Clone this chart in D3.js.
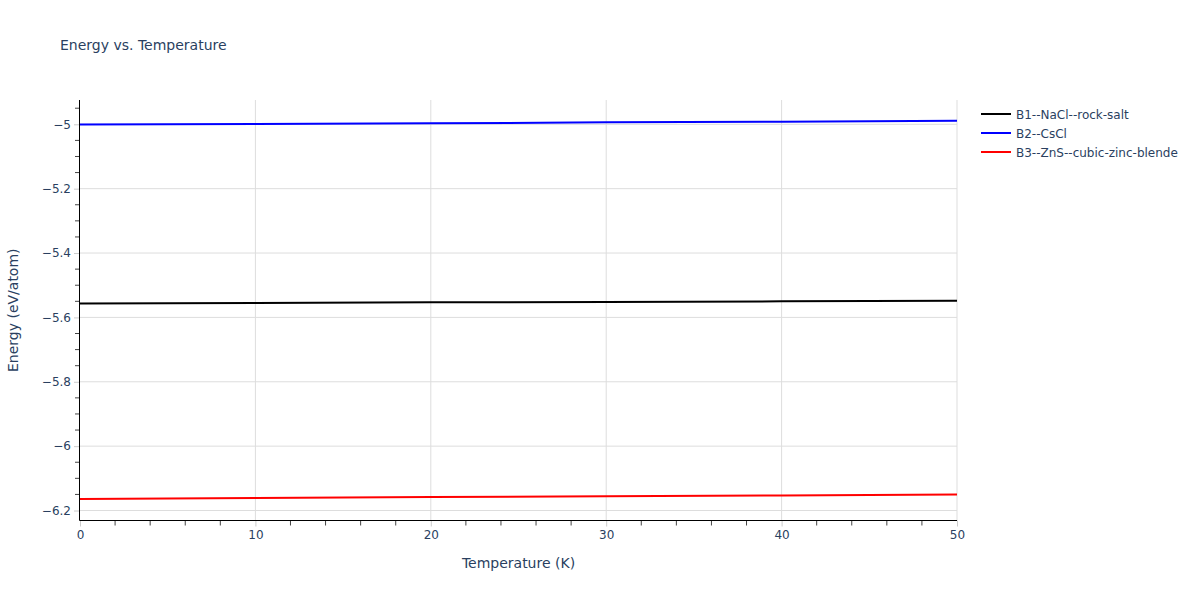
<!DOCTYPE html>
<html>
<head>
<meta charset="utf-8">
<script src="https://cdn.jsdelivr.net/npm/d3@7"></script>
<style>
    body { margin: 0; background: #fff; }
    text { font-family: "DejaVu Sans", Verdana, sans-serif; fill: #2a3f5f; }
</style>
</head>
<body>
<div id="chart"></div>
<script>
// values
const temperatures = [0, 10, 20, 30, 40, 50];
const b1Energy = [-5.557, -5.555, -5.553, -5.552, -5.550, -5.548];
const b2Energy = [-5.001, -4.999, -4.997, -4.994, -4.992, -4.989];
const b3Energy = [-6.164, -6.161, -6.158, -6.156, -6.153, -6.150];
const seriesNames = ["B1--NaCl--rock-salt", "B2--CsCl", "B3--ZnS--cubic-zinc-blende"];
const seriesColors = ["#000000", "#0000ff", "#ff0000"];
const xTicks = [0, 10, 20, 30, 40, 50];
const yTicks = [-5, -5.2, -5.4, -5.6, -5.8, -6, -6.2];

const series = [b1Energy, b2Energy, b3Energy].map((vals, i) => ({
    name: seriesNames[i],
    color: seriesColors[i],
    points: vals.map((v, j) => ({ t: temperatures[j], e: v }))
}));

let margin = {top: 100, right: 243, bottom: 79.5, left: 80},
    fullWidth = 1200, fullHeight = 600,
    width = fullWidth - margin.left - margin.right,
    height = fullHeight - margin.top - margin.bottom;

let svg = d3.select("#chart").append("svg")
    .attr("width", fullWidth)
    .attr("height", fullHeight);

let g = svg.append("g").attr("transform", "translate(" + margin.left + "," + margin.top + ")");

let xScale = d3.scaleLinear().domain([0, 50]).range([0, width]);
let yScale = d3.scaleLinear().domain([-6.231, -4.9245]).range([height, 0]);

// grid lines
g.append("g").selectAll("line")
    .data(xTicks.filter(d => d > 0))
    .enter().append("line")
    .attr("x1", d => xScale(d)).attr("x2", d => xScale(d))
    .attr("y1", 0).attr("y2", height)
    .attr("stroke", "#dddddd").attr("stroke-width", 1);

g.append("g").selectAll("line")
    .data(yTicks)
    .enter().append("line")
    .attr("x1", 0).attr("x2", width)
    .attr("y1", d => yScale(d)).attr("y2", d => yScale(d))
    .attr("stroke", "#dddddd").attr("stroke-width", 1);

// minor ticks
let xMinor = d3.range(0, 50.01, 2).filter(d => d % 10 !== 0);
let yMinor = d3.range(-6.2, -4.93, 0.05).filter(d => Math.abs(Math.round(d * 5) - d * 5) > 0.01);

let xAxis = g.append("g")
    .attr("transform", "translate(0," + height + ")")
    .call(d3.axisBottom(xScale).tickValues(xTicks).tickSize(6).tickPadding(4).tickSizeOuter(0));
xAxis.select(".domain").remove();
xAxis.selectAll(".tick line").attr("stroke", "#cccccc");
xAxis.selectAll(".tick text").style("font-size", "12px").attr("fill", "#2a3f5f");

let yAxis = g.append("g")
    .call(d3.axisLeft(yScale).tickValues(yTicks).tickSize(6).tickPadding(3).tickSizeOuter(0)
        .tickFormat(d => d3.format("")(d).replace("-", "\u2212")));
yAxis.select(".domain").remove();
yAxis.selectAll(".tick line").attr("stroke", "#cccccc");
yAxis.selectAll(".tick text").style("font-size", "12px").attr("fill", "#2a3f5f");

g.append("g").selectAll("line")
    .data(xMinor)
    .enter().append("line")
    .attr("x1", d => xScale(d)).attr("x2", d => xScale(d))
    .attr("y1", height).attr("y2", height + 5)
    .attr("stroke", "#444").attr("stroke-width", 1);

g.append("g").selectAll("line")
    .data(yMinor)
    .enter().append("line")
    .attr("x1", -5).attr("x2", 0)
    .attr("y1", d => yScale(d)).attr("y2", d => yScale(d))
    .attr("stroke", "#444").attr("stroke-width", 1);

// axis lines
g.append("line")
    .attr("x1", -0.5).attr("x2", width).attr("y1", height).attr("y2", height)
    .attr("stroke", "#000").attr("stroke-width", 1);
g.append("line")
    .attr("x1", -0.5).attr("x2", -0.5).attr("y1", 0).attr("y2", height)
    .attr("stroke", "#000").attr("stroke-width", 1);

// series lines
let line = d3.line()
    .x(d => xScale(d.t))
    .y(d => yScale(d.e));

g.selectAll(".series")
    .data(series)
    .enter().append("path")
    .attr("class", "series")
    .attr("fill", "none")
    .attr("stroke", d => d.color)
    .attr("stroke-width", 2)
    .attr("d", d => line(d.points));

// titles
svg.append("text")
    .attr("x", 60).attr("y", 50)
    .style("font-size", "14px")
    .text("Energy vs. Temperature");

svg.append("text")
    .attr("x", margin.left + width / 2).attr("y", 568)
    .attr("text-anchor", "middle")
    .style("font-size", "14px")
    .text("Temperature (K)");

svg.append("text")
    .attr("transform", "translate(18," + (margin.top + height / 2) + ") rotate(-90)")
    .attr("text-anchor", "middle")
    .style("font-size", "14px")
    .text("Energy (eV/atom)");

// legend
let legend = svg.append("g").attr("transform", "translate(981,114)");
let items = legend.selectAll("g")
    .data(series)
    .enter().append("g")
    .attr("transform", (d, i) => "translate(0," + (i * 19) + ")");
items.append("line")
    .attr("x1", 0).attr("x2", 30).attr("y1", 0).attr("y2", 0)
    .attr("stroke", d => d.color).attr("stroke-width", 2);
items.append("text")
    .attr("x", 35).attr("y", 4.5)
    .style("font-size", "12px")
    .text(d => d.name);
</script>
</body>
</html>
